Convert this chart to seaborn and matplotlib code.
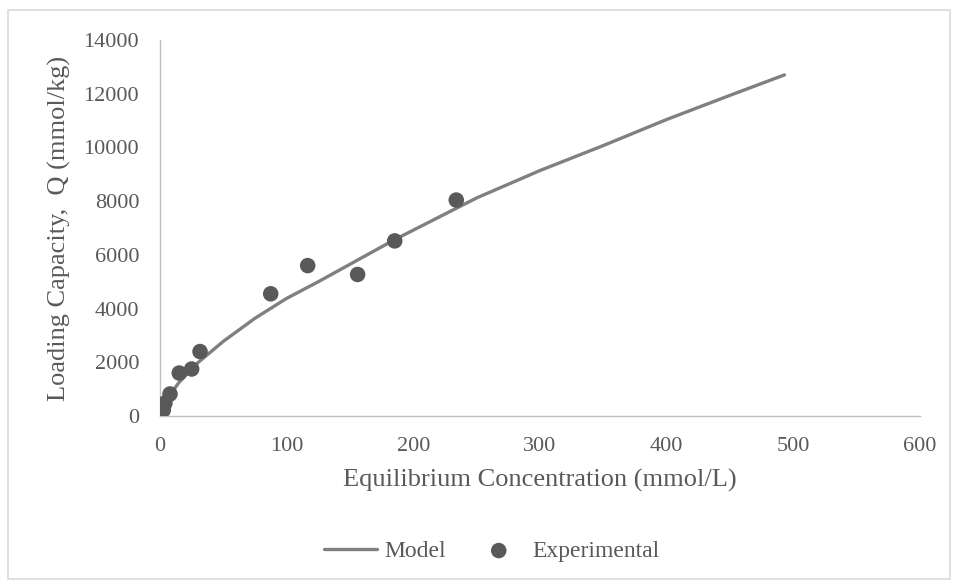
import matplotlib
matplotlib.use("Agg")
import matplotlib.pyplot as plt
import seaborn as sns
import pandas as pd
from matplotlib.patches import Rectangle

# Experimental isotherm points
exp_conc = [2.6, 3.9, 7.9, 15.2, 25.0, 31.6, 87.4, 116.6, 156.0, 185.3, 233.9]
exp_load = [220, 480, 820, 1600, 1750, 2400, 4550, 5600, 5270, 6520, 8040]

# Fitted model curve
model_conc = [0, 5, 15, 30, 50, 75, 100, 125, 150, 185, 250, 300, 350, 400, 450, 493]
model_load = [0, 600, 1250, 1990, 2780, 3640, 4380, 5000, 5650, 6560, 8120, 9140, 10070, 11040, 11940, 12700]

x_ticks = [0, 100, 200, 300, 400, 500, 600]
y_ticks = [0, 2000, 4000, 6000, 8000, 10000, 12000, 14000]

sns.set_theme(style="white")
plt.rcParams["font.family"] = ["Liberation Serif", "DejaVu Serif"]

text_col = "#595959"
W, H = 956, 583
fig = plt.figure(figsize=(W / 100, H / 100), dpi=100)
ax = fig.add_axes([160 / W, 1 - 416 / H, 760 / W, 376 / H])

model_df = pd.DataFrame({"C": model_conc, "Q": model_load})
exp_df = pd.DataFrame({"C": exp_conc, "Q": exp_load})

sns.lineplot(data=model_df, x="C", y="Q", ax=ax, color="#808080", linewidth=2.4,
             sort=False, estimator=None, label="Model", zorder=2)
sns.scatterplot(data=exp_df, x="C", y="Q", ax=ax, color="#595959", s=125,
                edgecolor="none", label="Experimental", zorder=3)

ax.set_xlim(0, 600)
ax.set_ylim(0, 14000)
ax.set_xticks(x_ticks)
ax.set_yticks(y_ticks)
ax.tick_params(axis="both", length=0, labelsize=16, colors=text_col)
ax.tick_params(axis="x", pad=15)
ax.tick_params(axis="y", pad=15)

ax.set_xlabel("Equilibrium Concentration (mmol/L)", fontsize=19, color=text_col)
ax.set_ylabel("Loading Capacity,  Q (mmol/kg)", fontsize=19, color=text_col)
ax.xaxis.label.set_va("center")
ax.xaxis.set_label_coords(0.5, -(480 - 416) / 376)
ax.yaxis.label.set_va("center")
ax.yaxis.set_label_coords((59 - 160) / 760, 0.5)

for side in ["top", "right"]:
    ax.spines[side].set_visible(False)
for side in ["left", "bottom"]:
    ax.spines[side].set_color("#bfbfbf")
    ax.spines[side].set_linewidth(1.0)

handles, labels = ax.get_legend_handles_labels()
ax.legend_.remove()
fig.legend(handles, labels, loc="center", bbox_to_anchor=(492 / W, 1 - 551 / H),
           ncol=2, frameon=False, fontsize=17, labelcolor=text_col,
           handlelength=2.25, handletextpad=0.3, columnspacing=1.1,
           borderpad=0, borderaxespad=0)

# outer chart frame
fig.patches.append(Rectangle((8 / W, 4 / H), 942 / W, 569 / H,
                             transform=fig.transFigure, fill=False,
                             edgecolor="#d9d9d9", linewidth=1.2))

fig.savefig("out.png", dpi=100)
